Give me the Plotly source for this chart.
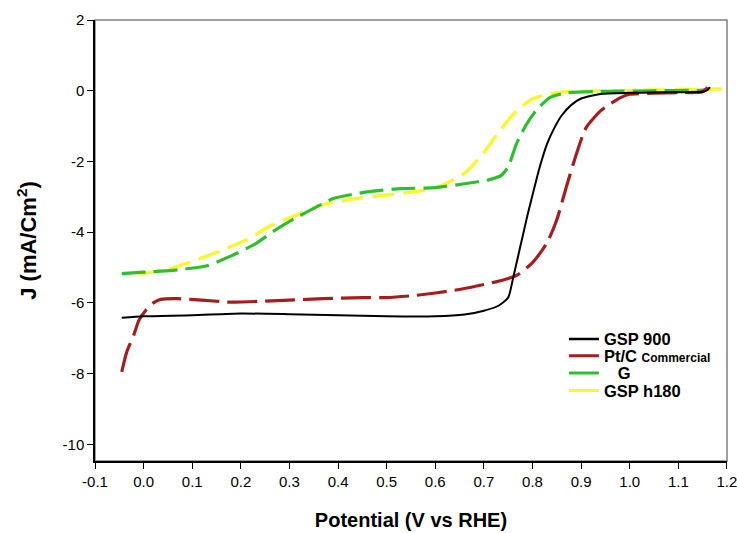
import plotly.graph_objects as go

# GSP 900 (black, solid)
v_gsp900 = [-0.045, 0.0, 0.1, 0.2, 0.3, 0.4, 0.5, 0.6, 0.66, 0.70, 0.73, 0.75, 0.76, 0.77, 0.78,
            0.79, 0.80, 0.815, 0.83, 0.845, 0.86, 0.88, 0.90, 0.94, 1.0, 1.05, 1.1, 1.15, 1.16, 1.165]
j_gsp900 = [-6.42, -6.38, -6.35, -6.30, -6.32, -6.35, -6.38, -6.38, -6.33, -6.22, -6.08, -5.85, -5.30, -4.70, -4.10,
            -3.50, -2.95, -2.15, -1.50, -1.05, -0.70, -0.40, -0.22, -0.09, -0.06, -0.05, -0.04, -0.03, 0.02, 0.10]

# Pt/C Commercial (dark red, dashed)
v_ptc = [-0.045, -0.035, -0.02, -0.01, 0.005, 0.02, 0.035, 0.07, 0.12, 0.18, 0.25, 0.30, 0.37, 0.45, 0.50,
         0.55, 0.60, 0.65, 0.70, 0.74, 0.77, 0.80, 0.83, 0.85, 0.87, 0.89, 0.91, 0.94, 0.98, 1.0, 1.05, 1.1, 1.15, 1.16]
j_ptc = [-7.95, -7.40, -6.90, -6.50, -6.20, -6.00, -5.90, -5.88, -5.92, -5.98, -5.95, -5.92, -5.88, -5.85, -5.85,
         -5.80, -5.72, -5.62, -5.48, -5.35, -5.20, -4.86, -4.30, -3.65, -2.70, -1.80, -1.05, -0.57, -0.20, -0.10,
         -0.07, -0.05, -0.03, 0.10]

# G (green, dashed)
v_g = [-0.045, 0.0, 0.06, 0.13, 0.18, 0.23, 0.27, 0.31, 0.355, 0.39, 0.46, 0.53, 0.60, 0.66, 0.71, 0.735,
       0.75, 0.767, 0.788, 0.808, 0.835, 0.87, 0.95, 1.05, 1.15, 1.16]
j_g = [-5.17, -5.13, -5.08, -4.95, -4.67, -4.33, -3.95, -3.62, -3.29, -3.05, -2.86, -2.77, -2.74, -2.63, -2.52, -2.40,
       -2.15, -1.50, -0.94, -0.55, -0.20, -0.06, -0.02, 0.00, 0.02, 0.05]

# GSP h180 (yellow, dashed)
v_h180 = [-0.01, 0.05, 0.093, 0.16, 0.21, 0.264, 0.313, 0.367, 0.437, 0.505, 0.56, 0.60, 0.63, 0.664, 0.697,
          0.732, 0.767, 0.80, 0.835, 0.87, 0.95, 1.05, 1.15, 1.19]
j_h180 = [-5.18, -5.05, -4.86, -4.52, -4.23, -3.80, -3.52, -3.23, -3.05, -2.94, -2.85, -2.75, -2.57, -2.29, -1.80,
          -1.14, -0.57, -0.23, -0.09, -0.03, 0.00, 0.02, 0.04, 0.05]

x_ticks = [-0.1, 0.0, 0.1, 0.2, 0.3, 0.4, 0.5, 0.6, 0.7, 0.8, 0.9, 1.0, 1.1, 1.2]
x_ticktext = ["-0.1", "0.0", "0.1", "0.2", "0.3", "0.4", "0.5", "0.6", "0.7", "0.8", "0.9", "1.0", "1.1", "1.2"]
y_ticks = [-10, -8, -6, -4, -2, 0, 2]
y_ticktext = ["-10", "-8", "-6", "-4", "-2", "0", "2"]

colors = ["#000000", "#A31F1F", "#2EBE2E", "#F7F732"]
dashes = ["solid", "30px,8px", "24px,8px", "22px,9px"]
widths = [2, 3.2, 3.2, 3.4]
series = [(v_gsp900, j_gsp900), (v_ptc, j_ptc), (v_g, j_g), (v_h180, j_h180)]
draw_order = [3, 2, 1, 0]

BIG = "font-size:16.5px"
legend_labels = [
    f"<span style='{BIG}'><b>GSP 900</b></span>",
    f"<span style='{BIG}'><b>Pt/C</b></span> <span style='font-size:12px'><b>Commercial</b></span>",
    f"<span style='{BIG}'><b>\u00a0\u00a0\u00a0G</b></span>",
    f"<span style='{BIG}'><b>GSP h180</b></span>",
]
legend_ids = ["legend", "legend2", "legend3", "legend4"]
legend_rows_y = [0.276, 0.238, 0.199, 0.159]

fig = go.Figure()
for i in draw_order:
    x, y = series[i]
    fig.add_trace(go.Scatter(x=x, y=y, mode="lines", showlegend=False,
                             line=dict(color=colors[i], width=widths[i], dash=dashes[i],
                                       shape="spline", smoothing=0.6)))
for i in range(4):
    fig.add_trace(go.Scatter(x=[None], y=[None], mode="lines", name=legend_labels[i],
                             legend=legend_ids[i],
                             line=dict(color=colors[i], width=3 if i else 2.5)))

font_family = "Liberation Sans, Arial, sans-serif"
legend_common = dict(x=0.742, xanchor="left", yanchor="middle",
                     font=dict(size=16.5, family=font_family, color="black"),
                     bgcolor="rgba(0,0,0,0)", borderwidth=0)
layout_legends = {lid: dict(legend_common, y=ly) for lid, ly in zip(legend_ids, legend_rows_y)}

fig.update_layout(
    width=737, height=533,
    margin=dict(l=95, r=10, t=20, b=72),
    paper_bgcolor="white", plot_bgcolor="white",
    font=dict(family=font_family, color="black", size=15),
    shapes=[dict(type="rect", xref="paper", yref="paper", x0=0, x1=1, y0=0, y1=1,
                 line=dict(color="#808080", width=1.5), layer="below")],
    **layout_legends,
)
fig.update_xaxes(range=[-0.1, 1.2001], tickvals=x_ticks, ticktext=x_ticktext,
                 ticks="outside", ticklen=6, tickwidth=1.2, tickcolor="black",
                 showline=True, linecolor="black", linewidth=1.5,
                 showgrid=False, zeroline=False, tickfont=dict(size=15),
                 ticklabeloverflow="allow", automargin=False,
                 title=dict(text="<b>Potential (V vs RHE)</b>", font=dict(size=20), standoff=24))
fig.update_yaxes(range=[-10.47, 2.0001], tickvals=y_ticks, ticktext=y_ticktext,
                 ticks="outside", ticklen=6, tickwidth=1.2, tickcolor="black",
                 showline=True, linecolor="black", linewidth=1.5,
                 showgrid=False, zeroline=False, tickfont=dict(size=15),
                 ticklabeloverflow="allow", automargin=False,
                 title=dict(text="<b>J (mA/Cm<sup>2</sup>)</b>", font=dict(size=22), standoff=20))

fig.write_html("out.html")
